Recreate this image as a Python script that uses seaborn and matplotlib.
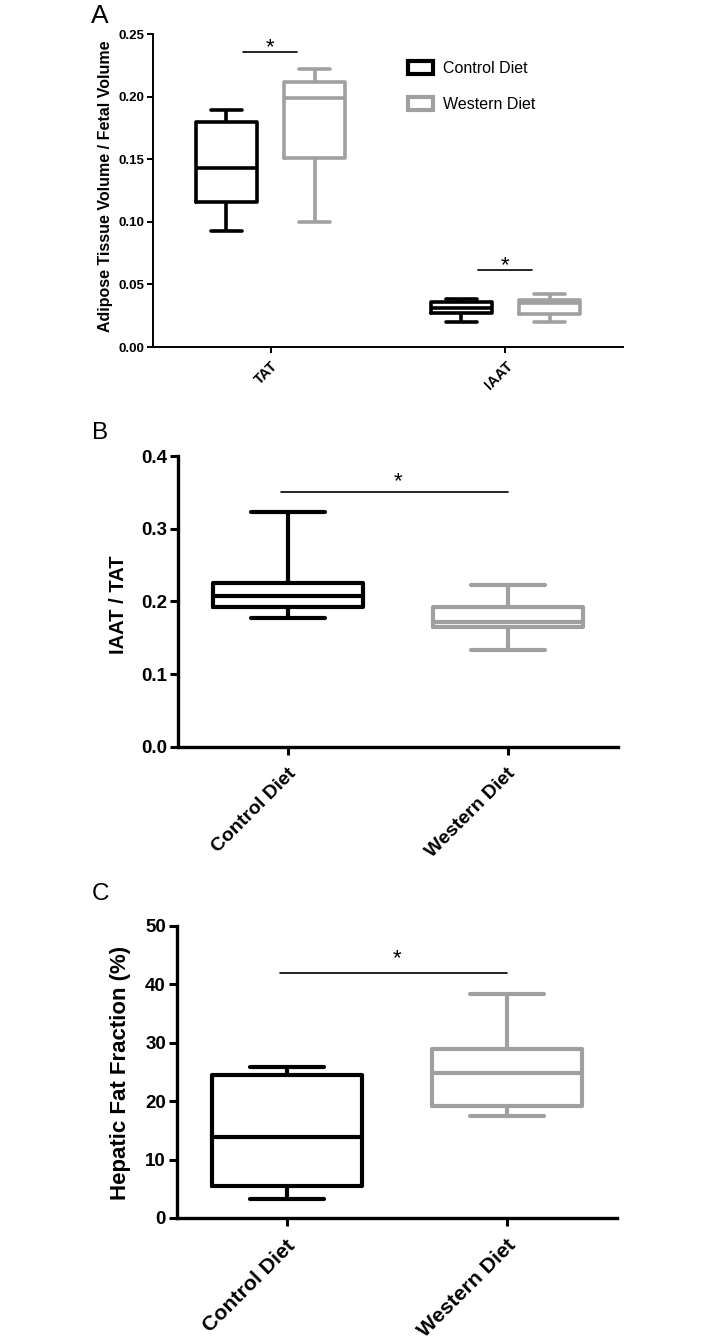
import pandas as pd
import seaborn as sns
import matplotlib.pyplot as plt
from matplotlib.patches import Patch
from matplotlib.transforms import ScaledTranslation

# Five-number summaries: min, Q1, median, Q3, max.
diets = ["Control Diet", "Western Diet"]
depots = ["TAT", "IAAT"]

tat_control = [0.093, 0.116, 0.143, 0.180, 0.189]
tat_western = [0.100, 0.151, 0.199, 0.212, 0.222]
iaat_control = [0.020, 0.0275, 0.0315, 0.0362, 0.038]
iaat_western = [0.020, 0.0264, 0.035, 0.0375, 0.042]

ratio_control = [0.177, 0.192, 0.208, 0.226, 0.323]
ratio_western = [0.133, 0.165, 0.172, 0.193, 0.222]

hff_control = [3.2, 5.4, 13.8, 24.5, 25.9]
hff_western = [17.4, 19.2, 24.8, 29.0, 38.4]

# Heights of the significance bars.
sig_a = [0.236, 0.0615]
sig_b = 0.350
sig_c = 42.0

colors = ["#000000", "#a0a0a2"]


def long_df(groups):
    """Turn a list of (category, diet, values) into a long DataFrame."""
    rows = []
    for cat, diet, values in groups:
        for v in values:
            rows.append({"cat": cat, "diet": diet, "value": v})
    return pd.DataFrame(rows)


df_a = long_df([("TAT", diets[0], tat_control), ("TAT", diets[1], tat_western),
                ("IAAT", diets[0], iaat_control), ("IAAT", diets[1], iaat_western)])
df_b = long_df([(diets[0], diets[0], ratio_control), (diets[1], diets[1], ratio_western)])
df_c = long_df([(diets[0], diets[0], hff_control), (diets[1], diets[1], hff_western)])

sns.set_style("white")
plt.rcParams["font.family"] = ["Liberation Sans", "DejaVu Sans"]
plt.rcParams.update({"axes.edgecolor": "black", "text.color": "black",
                     "xtick.color": "black", "ytick.color": "black",
                     "axes.labelcolor": "black"})

fig = plt.figure(figsize=(7.15, 13.42), dpi=100)
ax_a = fig.add_axes([0.2140, 0.7414, 0.6573, 0.2332])
ax_b = fig.add_axes([0.2490, 0.4434, 0.6154, 0.2168])
ax_c = fig.add_axes([0.2476, 0.0924, 0.6154, 0.2176])

box_kw = dict(fill=False, whis=(0, 100), legend=False, palette=colors,
              boxprops={"solid_joinstyle": "round"})


def shift_xlabels(ax, dx_px):
    # move rotated tick labels sideways by a few pixels
    offset = ScaledTranslation(dx_px / 100, 0, fig.dpi_scale_trans)
    for lab in ax.get_xticklabels():
        lab.set_transform(lab.get_transform() + offset)


# Panel A
sns.boxplot(data=df_a, x="cat", y="value", hue="diet", order=depots, hue_order=diets,
            width=0.75, gap=0.3, linewidth=2.6, ax=ax_a, **box_kw)
for i, h in enumerate(sig_a):
    ax_a.plot([i - 0.115, i + 0.113], [h, h], color="black", lw=1.2)
    ax_a.annotate("*", (i, h), xytext=(0, -1), textcoords="offset points",
                  ha="center", va="baseline", fontsize=16)
ax_a.set_xlim(-0.5, 1.5)
ax_a.set_ylim(0, 0.25)
ax_a.set_yticks([0, 0.05, 0.10, 0.15, 0.20, 0.25])
ax_a.set_yticklabels([f"{t:.2f}" for t in ax_a.get_yticks()], fontsize=9.5, fontweight="bold")
ax_a.set_xticks(range(len(depots)))
ax_a.set_xticklabels(depots, fontsize=10.5, fontweight="bold", rotation=45,
                     ha="right", va="top", rotation_mode="anchor")
ax_a.set_xlabel("")
ax_a.set_ylabel("Adipose Tissue Volume / Fetal Volume", fontsize=11.5, fontweight="bold")
ax_a.yaxis.set_label_coords(-0.085, 0.514)
ax_a.tick_params(axis="y", direction="out", length=4.5, width=1.4, pad=2, left=True)
ax_a.tick_params(axis="x", direction="out", length=4.5, width=1.4, pad=4, bottom=True)
for s in ["left", "bottom"]:
    ax_a.spines[s].set_linewidth(1.4)

handles = [Patch(facecolor="white", edgecolor=c, linewidth=3, joinstyle="round") for c in colors]
ax_a.legend(handles, diets, loc="upper left", bbox_to_anchor=(0.543, 0.914), frameon=False,
            fontsize=11.5, handlelength=1.56, handleheight=0.875, handletextpad=0.6,
            labelspacing=1.3, borderpad=0, borderaxespad=0)

# Panels B and C
panels = [
    (ax_b, df_b, (0, 0.4), [0, 0.1, 0.2, 0.3, 0.4], "{:.1f}", "IAAT / TAT", 14.5, 13.5, 14, sig_b, 4, (-0.113, 0.49)),
    (ax_c, df_c, (0, 50), [0, 10, 20, 30, 40, 50], "{:.0f}", "Hepatic Fat Fraction (%)", 16, 13.5, 15.3, sig_c, 6, (-0.104, 0.497)),
]
for ax, df, ylim, ticks, fmt, ylabel, ylab_fs, tick_fs, xt_fs, sig, dy, lab_xy in panels:
    sns.boxplot(data=df, x="cat", y="value", hue="cat", order=diets, hue_order=diets,
                width=0.68, linewidth=3.0, ax=ax, **box_kw)
    ax.plot([-0.03, 1.0], [sig, sig], color="black", lw=1.2)
    ax.annotate("*", (0.5, sig), xytext=(0, dy), textcoords="offset points",
                ha="center", va="baseline", fontsize=16)
    ax.set_xlim(-0.5, 1.5)
    ax.set_ylim(*ylim)
    ax.set_yticks(ticks)
    ax.set_yticklabels([fmt.format(t) for t in ticks], fontsize=tick_fs, fontweight="bold")
    ax.set_xticks(range(len(diets)))
    ax.set_xticklabels(diets, fontsize=xt_fs, fontweight="bold", rotation=45,
                       ha="right", va="top", rotation_mode="anchor")
    ax.set_xlabel("")
    ax.set_ylabel(ylabel, fontsize=ylab_fs, fontweight="bold")
    ax.yaxis.set_label_coords(*lab_xy)
    ax.tick_params(axis="y", direction="out", length=6, width=2.2, pad=2, left=True)
    ax.tick_params(axis="x", direction="out", length=6, width=2.2, pad=7, bottom=True)
    shift_xlabels(ax, -1)
    for s in ["left", "bottom"]:
        ax.spines[s].set_linewidth(2.4)

for ax in [ax_a, ax_b, ax_c]:
    ax.spines["top"].set_visible(False)
    ax.spines["right"].set_visible(False)

# Panel letters
fig.text(91 / 715, 1 - 23 / 1342, "A", fontsize=19, va="baseline")
fig.text(92 / 715, 1 - 439 / 1342, "B", fontsize=17.5, va="baseline")
fig.text(92 / 715, 1 - 900 / 1342, "C", fontsize=17.5, va="baseline")

fig.savefig("out.png", dpi=100)
